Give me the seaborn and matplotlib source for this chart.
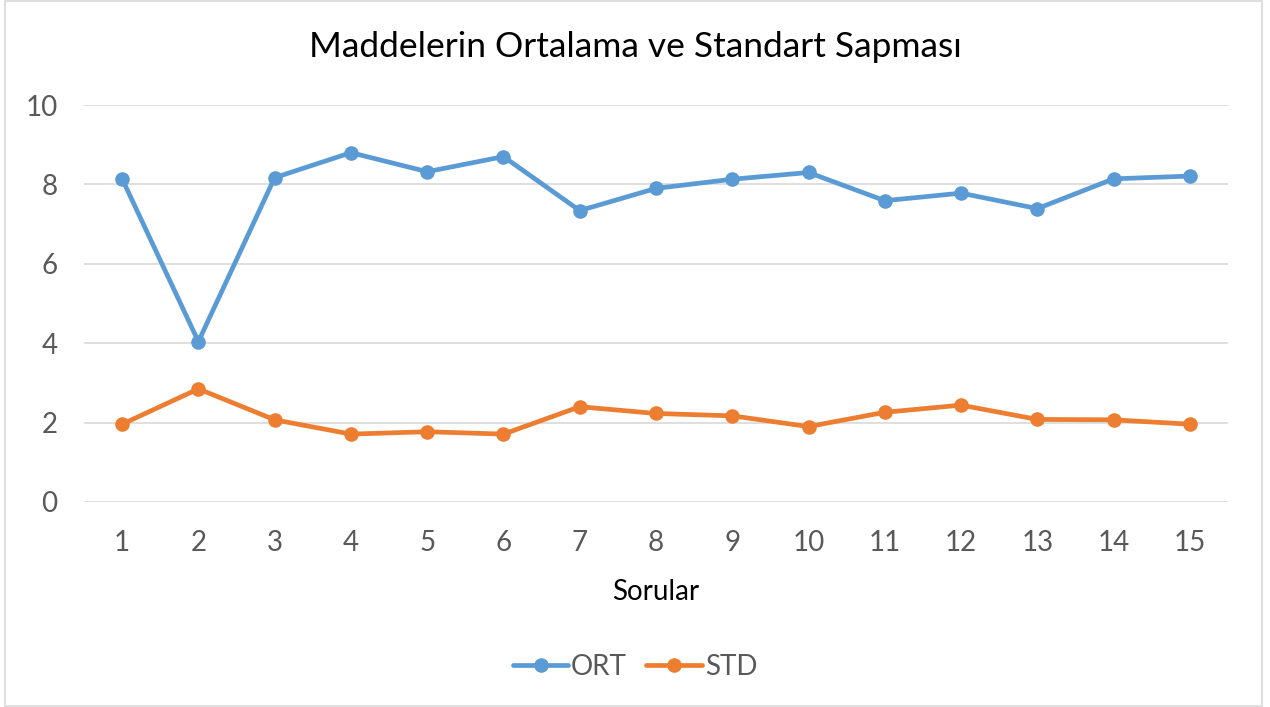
import matplotlib
matplotlib.use("Agg")
import matplotlib.pyplot as plt
import seaborn as sns
import pandas as pd
from matplotlib.patches import Rectangle

# data
sorular = list(range(1, 16))
ort = [8.14, 4.04, 8.17, 8.80, 8.32, 8.70, 7.34, 7.90, 8.13, 8.30, 7.59, 7.78, 7.39, 8.14, 8.21]
std = [1.96, 2.85, 2.07, 1.71, 1.77, 1.71, 2.40, 2.23, 2.17, 1.90, 2.26, 2.44, 2.08, 2.07, 1.96]
series = ["ORT", "STD"]
colors = {"ORT": "#5B9BD5", "STD": "#ED7D31"}

df = pd.DataFrame({"Sorular": sorular, "ORT": ort, "STD": std})
long_df = df.melt(id_vars="Sorular", var_name="seri", value_name="deger")

sns.set_style("white")
plt.rcParams["font.family"] = ["Lato", "DejaVu Sans"]

fig = plt.figure(figsize=(12.7, 7.07), dpi=100)
ax = fig.add_axes([84 / 1270, 1 - 502 / 707, (1228 - 84) / 1270, (502 - 105) / 707])

sns.lineplot(data=long_df, x="Sorular", y="deger", hue="seri", hue_order=series,
             palette=colors, marker="o", markersize=10.5, markeredgewidth=0,
             linewidth=3.4, dashes=False, ax=ax, legend=False)

ax.set_xlim(0.5, 15.5)
ax.set_ylim(0, 10)
ax.set_xticks(sorular)
ax.set_yticks([0, 2, 4, 6, 8, 10])
ax.grid(axis="y", color="#D9D9D9", linewidth=1.2)
ax.set_axisbelow(True)
for s in ax.spines.values():
    s.set_visible(False)
ax.tick_params(axis="both", length=0, labelsize=20, labelcolor="#595959")
ax.tick_params(axis="x", pad=20)
ax.tick_params(axis="y", pad=19)
ax.set_ylabel("")
ax.set_xlabel("Sorular", fontsize=20, color="black", labelpad=17)

fig.suptitle("Maddelerin Ortalama ve Standart Sapması", fontsize=25.5, color="black",
             y=1 - 47 / 707, va="center")

# legend at the bottom, line + marker handles like Excel
handles = [plt.Line2D([], [], color=colors[s], linewidth=3.4, marker="o",
                      markersize=10.5, markeredgewidth=0) for s in series]
fig.legend(handles, series, loc="center", bbox_to_anchor=(0.5, 1 - 667 / 707),
           ncol=2, frameon=False, fontsize=20, labelcolor="#595959",
           handlelength=2.0, handletextpad=0.1, columnspacing=0.7)

fig.patches.append(Rectangle((5 / 1270, 0.002), 1257 / 1270, 0.996,
                             transform=fig.transFigure, fill=False,
                             edgecolor="#D9D9D9", linewidth=1.2))

fig.savefig("out.png", dpi=100)
